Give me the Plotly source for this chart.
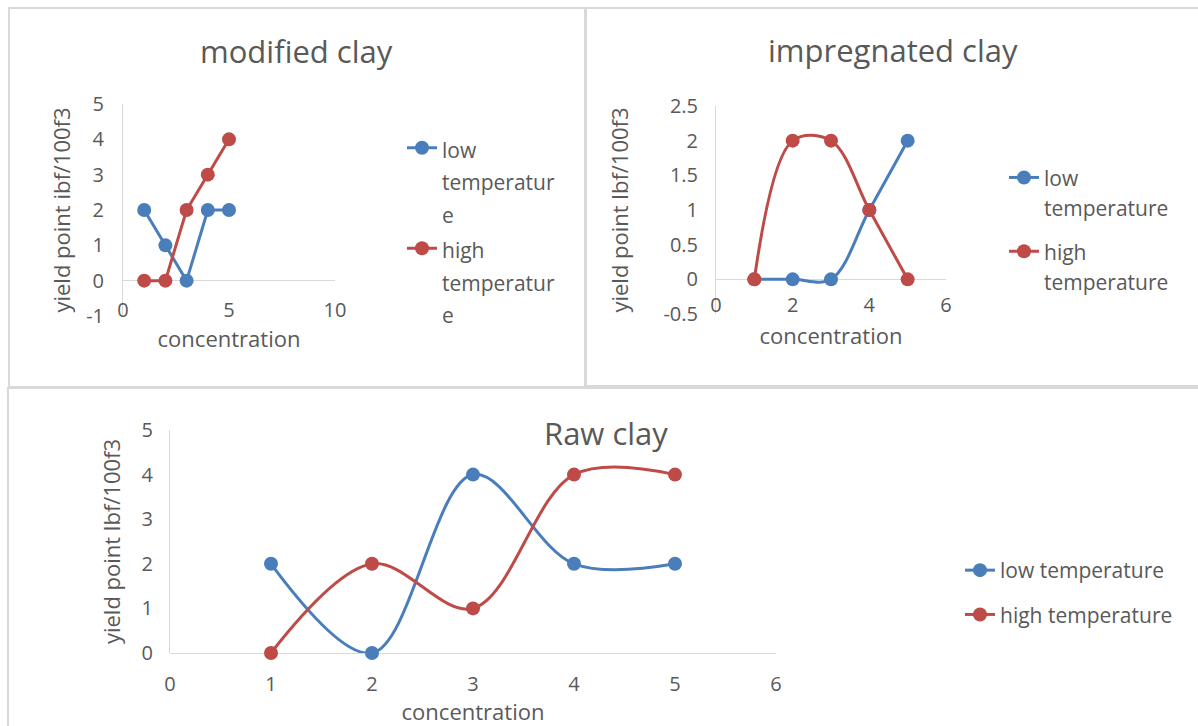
import plotly.graph_objects as go

W, H = 1198, 726

# ---- data ----
concentration = [1, 2, 3, 4, 5]
modified_low = [2, 1, 0, 2, 2]
modified_high = [0, 0, 2, 3, 4]
impregnated_low = [0, 0, 0, 1, 2]
impregnated_high = [0, 2, 2, 1, 0]
raw_low = [2, 0, 4, 2, 2]
raw_high = [0, 2, 1, 4, 4]

mod_xticks = [0, 5, 10]
mod_yticks = [-1, 0, 1, 2, 3, 4, 5]
imp_xticks = [0, 2, 4, 6]
imp_yticks = [-0.5, 0, 0.5, 1, 1.5, 2, 2.5]
raw_xticks = [0, 1, 2, 3, 4, 5, 6]
raw_yticks = [0, 1, 2, 3, 4, 5]

series_names = ["low temperature", "high temperature"]
panel_titles = ["modified clay", "impregnated clay", "Raw clay"]
y_titles = ["yield point ibf/100f3", "yield point lbf/100f3", "yield point lbf/100f3"]
x_title = "concentration"

# ---- style ----
BLUE = "#4a7ebb"
RED = "#be4b48"
GRID = "#d9d9d9"
TXT = "#595959"
FONT = "'Open Sans', Lato, sans-serif"
LEG_TXT = 21


def px_x(p):
    return p / W


def px_y(p):
    return 1 - p / H


def lbl(v):
    return ("%g" % v)


def span(lines, size):
    return "<br>".join("<span style='font-size:%dpx'>%s</span>" % (size, t) for t in lines)


fig = go.Figure()

panels = [
    dict(ax="", low=modified_low, high=modified_high, shape="linear", legend="legend",
         names=[span(["low", "temperatur", "e"], LEG_TXT), span(["high", "temperatur", "e"], LEG_TXT)],
         groups=[None, None]),
    dict(ax="2", low=impregnated_low, high=impregnated_high, shape="spline", legend="legend2",
         names=[span(["low", "temperature"], LEG_TXT), span(["high", "temperature"], LEG_TXT)],
         groups=["a", "b"]),
    dict(ax="3", low=raw_low, high=raw_high, shape="spline", legend="legend3",
         names=series_names, groups=["a", "b"]),
]

for p in panels:
    for vals, col, nm, grp in [(p["low"], BLUE, p["names"][0], p["groups"][0]),
                                (p["high"], RED, p["names"][1], p["groups"][1])]:
        fig.add_trace(go.Scatter(
            x=concentration, y=vals, mode="lines+markers", name=nm,
            xaxis="x" + p["ax"], yaxis="y" + p["ax"], legend=p["legend"],
            legendgroup=grp,
            line=dict(color=col, width=3, shape=p["shape"], smoothing=1),
            marker=dict(color=col, size=14, symbol="circle"),
            cliponaxis=False,
        ))

tickfont = dict(family=FONT, size=20, color=TXT)
titlefont = dict(family=FONT, size=22, color=TXT)


def xaxis(dom, rng, ticks, pos, title_standoff):
    return dict(domain=[px_x(dom[0]), px_x(dom[1])], range=rng, anchor="free",
                position=px_y(pos), tickvals=ticks, ticktext=[lbl(t) for t in ticks],
                showline=False, showgrid=False, zeroline=False, ticks="", automargin=False,
                tickfont=tickfont, title=dict(text=x_title, font=titlefont, standoff=title_standoff))


def yaxis(anchor, dom, rng, ticks, standoff, title, title_standoff):
    return dict(domain=[px_y(dom[1]), px_y(dom[0])], range=rng, anchor=anchor,
                tickvals=ticks, ticktext=[lbl(t) for t in ticks],
                showline=True, linecolor=GRID, linewidth=1, automargin=False,
                showgrid=False, zeroline=True, zerolinecolor=GRID, zerolinewidth=1,
                ticks="", ticklabelstandoff=standoff, tickfont=tickfont,
                title=dict(text=title, font=titlefont, standoff=title_standoff))


def title_ann(text, x, y):
    return dict(text=text, x=px_x(x), y=px_y(y), xref="paper", yref="paper",
                xanchor="center", yanchor="middle",
                showarrow=False, font=dict(family=FONT, size=31, color=TXT))


layout = dict(
    width=W, height=H, margin=dict(l=0, r=0, t=0, b=0, autoexpand=False),
    paper_bgcolor="white", plot_bgcolor="rgba(0,0,0,0)",
    font=dict(family=FONT, color=TXT),
    xaxis=xaxis((123, 335), [0, 10], mod_xticks, 296, 4),
    yaxis=yaxis("x", (104, 316), [-1, 5], mod_yticks, 14, y_titles[0], 9),
    xaxis2=xaxis((716, 946), [0, 6], imp_xticks, 291, 11),
    yaxis2=yaxis("x2", (106, 314), [-0.5, 2.5], imp_yticks, 13, y_titles[1], 28),
    xaxis3=xaxis((170, 776), [0, 6], raw_xticks, 670, 5),
    yaxis3=yaxis("x3", (430, 653), [0, 5], raw_yticks, 12, y_titles[2], 14),
    legend=dict(x=px_x(402), y=px_y(125), xanchor="left", yanchor="top", valign="top",
                font=dict(family=FONT, size=25, color=TXT), bgcolor="rgba(0,0,0,0)"),
    legend2=dict(x=px_x(1004), y=px_y(156), xanchor="left", yanchor="top", valign="top",
                 tracegroupgap=11,
                 font=dict(family=FONT, size=23, color=TXT), bgcolor="rgba(0,0,0,0)"),
    legend3=dict(x=px_x(960), y=px_y(550), xanchor="left", yanchor="top",
                 tracegroupgap=14,
                 font=dict(family=FONT, size=LEG_TXT, color=TXT), bgcolor="rgba(0,0,0,0)"),
    annotations=[
        title_ann(panel_titles[0], 296, 51),
        title_ann(panel_titles[1], 893, 50),
        title_ann(panel_titles[2], 606, 433),
    ],
    shapes=[
        dict(type="rect", xref="paper", yref="paper", x0=px_x(9), x1=px_x(585), y0=px_y(387), y1=px_y(8),
             line=dict(color=GRID, width=2)),
        dict(type="rect", xref="paper", yref="paper", x0=px_x(586), x1=px_x(1205), y0=px_y(386), y1=px_y(8),
             line=dict(color=GRID, width=2)),
        dict(type="rect", xref="paper", yref="paper", x0=px_x(8), x1=px_x(1205), y0=px_y(740), y1=px_y(388),
             line=dict(color=GRID, width=2)),
    ],
)
fig.update_layout(**layout)
fig.write_html("out.html")
